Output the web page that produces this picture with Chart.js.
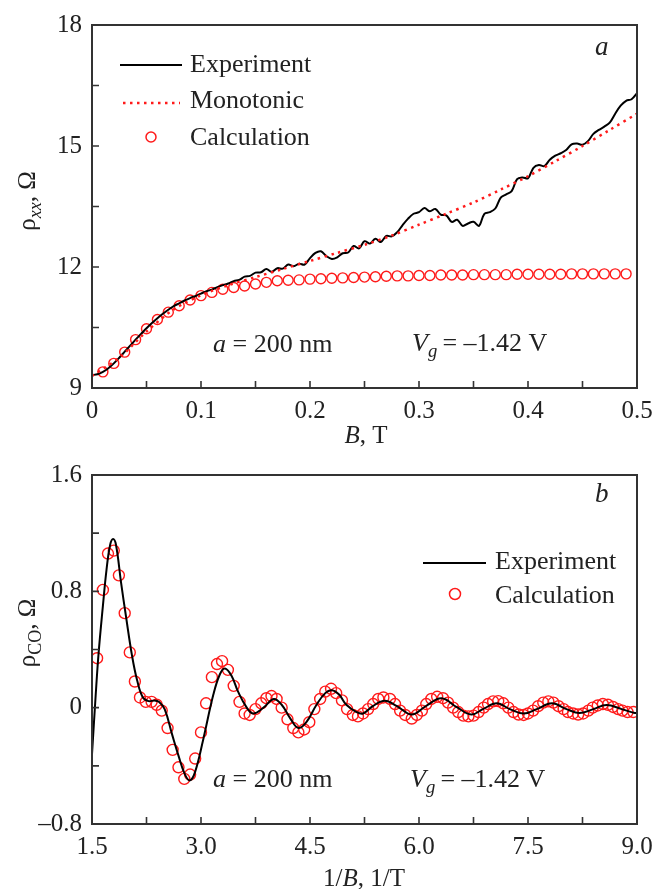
<!DOCTYPE html>
<html>
<head>
<meta charset="utf-8">
<script src="https://cdn.jsdelivr.net/npm/chart.js@4.4.0/dist/chart.umd.min.js"></script>
<style>
  body { margin: 0; background: #fff; }
  canvas { display: block; }
</style>
</head>
<body>
<canvas id="chartA" width="669" height="450"></canvas>
<canvas id="chartB" width="669" height="439"></canvas>
<script>
// --- DATA: panel a, rho_xx vs B ---
const expB = [0, 0.005, 0.01, 0.015, 0.02, 0.025, 0.03, 0.035, 0.04, 0.045, 0.05, 0.055, 0.06, 0.065, 0.07, 0.075, 0.08, 0.085, 0.09, 0.095,
  0.1, 0.105, 0.11, 0.115, 0.12, 0.125, 0.13, 0.135, 0.14, 0.145, 0.15, 0.155, 0.16, 0.165, 0.17, 0.175, 0.18, 0.185, 0.19, 0.195,
  0.2, 0.205, 0.21, 0.215, 0.22, 0.225, 0.23, 0.235, 0.24, 0.245, 0.25, 0.255, 0.26, 0.265, 0.27, 0.275, 0.28, 0.285, 0.29, 0.295,
  0.3, 0.305, 0.31, 0.315, 0.32, 0.325, 0.33, 0.335, 0.34, 0.345, 0.35, 0.355, 0.36, 0.365, 0.37, 0.375, 0.38, 0.385, 0.39, 0.395,
  0.4, 0.405, 0.41, 0.415, 0.42, 0.425, 0.43, 0.435, 0.44, 0.445, 0.45, 0.455, 0.46, 0.465, 0.47, 0.475, 0.48, 0.485, 0.49, 0.495, 0.5];
const expRho = [9.32, 9.34, 9.40, 9.49, 9.61, 9.75, 9.90, 10.05, 10.20, 10.34, 10.48, 10.61, 10.73, 10.84, 10.94, 11.03, 11.10, 11.17, 11.23, 11.28,
  11.34, 11.40, 11.44, 11.50, 11.55, 11.59, 11.65, 11.68, 11.76, 11.78, 11.86, 11.87, 11.95, 11.88, 11.97, 11.96, 12.06, 12.02, 12.08, 12.06,
  12.22, 12.35, 12.39, 12.27, 12.20, 12.24, 12.34, 12.36, 12.52, 12.46, 12.64, 12.58, 12.70, 12.62, 12.77, 12.76, 12.86, 13.04, 13.20, 13.32,
  13.36, 13.46, 13.38, 13.44, 13.30, 13.28, 13.12, 13.17, 13.02, 13.08, 13.12, 13.02, 13.32, 13.36, 13.45, 13.72, 13.80, 13.88, 14.18, 14.22,
  14.20, 14.46, 14.53, 14.50, 14.66, 14.76, 14.82, 14.90, 15.04, 15.06, 15.03, 15.12, 15.30, 15.40, 15.48, 15.58, 15.80, 16.00, 16.12, 16.16, 16.31];

const monoB = [0, 0.025, 0.05, 0.075, 0.1, 0.125, 0.15, 0.175, 0.2, 0.225, 0.25, 0.275, 0.3, 0.325, 0.35, 0.375, 0.4, 0.425, 0.45, 0.475, 0.5];
const monoRho = [9.30, 9.75, 10.40, 10.95, 11.30, 11.55, 11.75, 11.95, 12.15, 12.35, 12.55, 12.78, 13.05, 13.32, 13.60, 13.92, 14.25, 14.62, 15.00, 15.40, 15.80];

const calcB = [0.01, 0.02, 0.03, 0.04, 0.05, 0.06, 0.07, 0.08, 0.09, 0.1, 0.11, 0.12, 0.13, 0.14, 0.15, 0.16, 0.17, 0.18, 0.19, 0.2,
  0.21, 0.22, 0.23, 0.24, 0.25, 0.26, 0.27, 0.28, 0.29, 0.3, 0.31, 0.32, 0.33, 0.34, 0.35, 0.36, 0.37, 0.38, 0.39, 0.4,
  0.41, 0.42, 0.43, 0.44, 0.45, 0.46, 0.47, 0.48, 0.49];
const calcRho = [9.40, 9.61, 9.89, 10.20, 10.47, 10.70, 10.88, 11.04, 11.18, 11.29, 11.37, 11.45, 11.49, 11.53, 11.58, 11.62, 11.66, 11.67, 11.68, 11.70,
  11.71, 11.72, 11.73, 11.74, 11.75, 11.76, 11.77, 11.78, 11.78, 11.79, 11.79, 11.80, 11.80, 11.80, 11.81, 11.81, 11.81, 11.81, 11.82, 11.82,
  11.82, 11.82, 11.82, 11.83, 11.83, 11.83, 11.83, 11.83, 11.83];

const aXTicks = [0, 0.1, 0.2, 0.3, 0.4, 0.5];
const aXLabels = ['0', '0.1', '0.2', '0.3', '0.4', '0.5'];
const aYTicks = [9, 12, 15, 18];
const aYLabels = ['9', '12', '15', '18'];

// --- DATA: panel b, rho_CO vs 1/B ---
const expInvB = [1.5, 1.55, 1.59, 1.65, 1.7, 1.75, 1.79, 1.83, 1.9, 1.97, 2.05, 2.12, 2.2, 2.28, 2.36, 2.42, 2.5, 2.6, 2.69, 2.78,
  2.85, 2.92, 3.03, 3.17, 3.26, 3.33, 3.42, 3.51, 3.63, 3.72, 3.86, 4.0, 4.11, 4.23, 4.34, 4.45, 4.59, 4.71, 4.8, 4.9,
  5.0, 5.14, 5.23, 5.37, 5.53, 5.69, 5.9, 6.1, 6.31, 6.52, 6.72, 6.88, 7.07, 7.25, 7.44, 7.62, 7.83, 8.03, 8.21, 8.4,
  8.58, 8.79, 8.97, 9.0];
const expCO = [-0.32, 0.08, 0.37, 0.70, 0.95, 1.12, 1.16, 1.12, 0.86, 0.62, 0.36, 0.19, 0.07, 0.045, 0.05, 0.04, -0.01, -0.18, -0.33, -0.46,
  -0.50, -0.44, -0.22, 0.09, 0.23, 0.27, 0.22, 0.11, 0.00, -0.04, 0.00, 0.06, 0.02, -0.075, -0.14, -0.10, 0.02, 0.10, 0.12, 0.09,
  0.02, -0.03, -0.04, 0.013, 0.047, 0.013, -0.047, 0.013, 0.065, 0.003, -0.047, -0.01, 0.03, -0.01, -0.04, -0.01, 0.03, -0.01, -0.037, -0.01,
  0.018, -0.01, -0.037, -0.035];

const calcInvB = [1.57, 1.65, 1.72, 1.80, 1.87, 1.95, 2.02, 2.09, 2.16, 2.24, 2.32, 2.39, 2.46, 2.54, 2.61, 2.69, 2.77, 2.85, 2.92, 3.00,
  3.07, 3.15, 3.22, 3.29, 3.37, 3.45, 3.53, 3.60, 3.67, 3.75, 3.83, 3.90, 3.97, 4.04, 4.11, 4.19, 4.27, 4.34, 4.42, 4.49,
  4.56, 4.64, 4.71, 4.79, 4.86, 4.94, 5.01, 5.09, 5.16, 5.23, 5.30, 5.37, 5.44, 5.51, 5.60, 5.67, 5.74, 5.81, 5.90, 5.97,
  6.04, 6.10, 6.17, 6.25, 6.33, 6.40, 6.47, 6.54, 6.61, 6.68, 6.75, 6.82, 6.89, 6.95, 7.02, 7.09, 7.16, 7.23, 7.30, 7.37,
  7.44, 7.50, 7.57, 7.64, 7.71, 7.78, 7.85, 7.92, 7.99, 8.05, 8.12, 8.19, 8.26, 8.33, 8.39, 8.46, 8.53, 8.60, 8.67, 8.74,
  8.80, 8.87, 8.95];
const calcCO = [0.34, 0.81, 1.06, 1.08, 0.91, 0.65, 0.38, 0.18, 0.07, 0.04, 0.04, 0.02, -0.02, -0.14, -0.29, -0.41, -0.49, -0.46, -0.35, -0.17,
  0.03, 0.21, 0.30, 0.32, 0.26, 0.15, 0.04, -0.04, -0.05, -0.01, 0.03, 0.065, 0.08, 0.06, 0.00, -0.08, -0.14, -0.17, -0.15, -0.10,
  -0.01, 0.06, 0.11, 0.13, 0.10, 0.05, -0.01, -0.05, -0.06, -0.04, -0.01, 0.025, 0.06, 0.07, 0.06, 0.025, -0.02, -0.05, -0.075, -0.05,
  -0.02, 0.025, 0.06, 0.075, 0.065, 0.035, 0.0, -0.03, -0.055, -0.06, -0.055, -0.03, 0.0, 0.025, 0.043, 0.045, 0.03, 0.0, -0.03, -0.047,
  -0.05, -0.04, -0.02, 0.01, 0.035, 0.043, 0.035, 0.01, -0.01, -0.03, -0.04, -0.047, -0.04, -0.02, 0.0, 0.015, 0.025, 0.02, 0.005, -0.01,
  -0.02, -0.03, -0.03];

const bXTicks = [1.5, 3, 4.5, 6, 7.5, 9];
const bXLabels = ['1.5', '3.0', '4.5', '6.0', '7.5', '9.0'];
const bYTicks = [-0.8, 0, 0.8, 1.6];
const bYLabels = ['\u20130.8', '0', '0.8', '1.6'];

// --- STYLE ---
const FONT = '"Liberation Serif", "Times New Roman", serif';
const INK = '#222';
const RED = '#ff1a1a';

function pts(xs, ys) { return xs.map((x, i) => ({ x: x, y: ys[i] })); }

function labelFor(vals, labels) {
  return v => {
    const i = vals.findIndex(t => Math.abs(t - v) < 1e-6);
    return i >= 0 ? labels[i] : '';
  };
}

// --- RICH TEXT (italic / subscript pieces) ---
function segFont(s, size) {
  return (s.it ? 'italic ' : '') + (s.sub ? size * 0.72 : size) + 'px ' + FONT;
}
function richWidth(ctx, segs, size) {
  let w = 0;
  segs.forEach(s => { ctx.font = segFont(s, size); w += ctx.measureText(s.t).width; });
  return w;
}
function drawRich(ctx, segs, x, y, size, align) {
  let cx = align === 'center' ? x - richWidth(ctx, segs, size) / 2 : x;
  ctx.textAlign = 'left';
  ctx.textBaseline = 'alphabetic';
  ctx.fillStyle = INK;
  segs.forEach(s => {
    ctx.font = segFont(s, size);
    ctx.fillText(s.t, cx, y + (s.sub ? size * 0.24 : 0));
    cx += ctx.measureText(s.t).width;
  });
}

// --- FRAME, INWARD TICKS, LEGEND, LABELS ---
function makeOverlay(cfg) {
  return {
    id: 'overlay',
    afterDraw(chart) {
      const { ctx, chartArea: a, scales } = chart;
      ctx.save();
      ctx.strokeStyle = '#333';
      ctx.lineWidth = 2;
      ctx.strokeRect(a.left, a.top, a.right - a.left, a.bottom - a.top);
      ctx.lineWidth = 1.6;
      ctx.beginPath();
      scales.x.ticks.forEach(t => {
        const px = scales.x.getPixelForValue(t.value);
        ctx.moveTo(px, a.bottom); ctx.lineTo(px, a.bottom - 7);
      });
      scales.y.ticks.forEach(t => {
        const py = scales.y.getPixelForValue(t.value);
        ctx.moveTo(a.left, py); ctx.lineTo(a.left + 7, py);
      });
      ctx.stroke();

      // legend
      cfg.legend.forEach(item => {
        ctx.save();
        if (item.kind === 'line') {
          ctx.strokeStyle = '#000'; ctx.lineWidth = 2;
          ctx.beginPath(); ctx.moveTo(item.x1, item.y); ctx.lineTo(item.x2, item.y); ctx.stroke();
        } else if (item.kind === 'dots') {
          ctx.strokeStyle = RED; ctx.lineWidth = 2.5; ctx.setLineDash([2.5, 4.5]);
          ctx.beginPath(); ctx.moveTo(item.x1, item.y); ctx.lineTo(item.x2, item.y); ctx.stroke();
        } else {
          ctx.strokeStyle = RED; ctx.lineWidth = 1.5;
          ctx.beginPath(); ctx.arc(item.x1, item.y, item.r, 0, Math.PI * 2); ctx.stroke();
        }
        ctx.restore();
        drawRich(ctx, [{ t: item.text }], item.tx, item.ty, 26);
      });

      // annotations and axis titles
      cfg.texts.forEach(tx => {
        if (tx.rotate) {
          ctx.save();
          ctx.translate(tx.x, tx.y);
          ctx.rotate(-Math.PI / 2);
          drawRich(ctx, tx.segs, 0, 0, tx.size, 'center');
          ctx.restore();
        } else {
          drawRich(ctx, tx.segs, tx.x, tx.y, tx.size, tx.align);
        }
      });
      ctx.restore();
    }
  };
}

function axis(min, max, step, vals, labels, fitKey, fitVal, pad) {
  return {
    type: 'linear', min: min, max: max,
    grid: { display: false, drawTicks: false },
    border: { display: false },
    ticks: {
      stepSize: step, autoSkip: false, maxRotation: 0, padding: pad,
      color: INK, font: { family: FONT, size: 25 },
      callback: labelFor(vals, labels)
    },
    afterFit: s => { s[fitKey] = fitVal; }
  };
}

Chart.defaults.font.family = FONT;

// --- PANEL a ---
new Chart(document.getElementById('chartA'), {
  type: 'scatter',
  data: {
    datasets: [
      { label: 'Monotonic', data: pts(monoB, monoRho), showLine: true, pointRadius: 0,
        borderColor: RED, borderWidth: 2.5, borderDash: [2.5, 4.5], tension: 0.3, order: 0 },
      { label: 'Experiment', data: pts(expB, expRho), showLine: true, pointRadius: 0,
        borderColor: '#000', borderWidth: 2, tension: 0.35, order: 1 },
      { label: 'Calculation', data: pts(calcB, calcRho), showLine: false, pointRadius: 5,
        pointStyle: 'circle', borderColor: RED, backgroundColor: 'rgba(0,0,0,0)', borderWidth: 1.4, order: 2 }
    ]
  },
  options: {
    responsive: false, animation: false, events: [],
    layout: { padding: { top: 22, right: 32, left: 0, bottom: 0 } },
    plugins: { legend: { display: false }, tooltip: { enabled: false } },
    scales: {
      x: axis(0, 0.5, 0.05, aXTicks, aXLabels, 'height', 62, 8),
      y: axis(9, 18, 1.5, aYTicks, aYLabels, 'width', 92, 10)
    }
  },
  plugins: [makeOverlay({
    legend: [
      { kind: 'line', x1: 120, x2: 182, y: 65, text: 'Experiment', tx: 190, ty: 72 },
      { kind: 'dots', x1: 123, x2: 180, y: 103, text: 'Monotonic', tx: 190, ty: 108 },
      { kind: 'circle', x1: 151, y: 137, r: 5, text: 'Calculation', tx: 190, ty: 145 }
    ],
    texts: [
      { segs: [{ t: 'a', it: true }], x: 595, y: 55, size: 27 },
      { segs: [{ t: 'a', it: true }, { t: ' = 200 nm' }], x: 213, y: 352, size: 26 },
      { segs: [{ t: 'V', it: true }, { t: 'g', it: true, sub: true }, { t: '\u2009= \u20131.42 V' }], x: 412, y: 351, size: 26 },
      { segs: [{ t: 'B', it: true }, { t: ', T' }], x: 366, y: 443, size: 25, align: 'center' },
      { segs: [{ t: '\u03c1' }, { t: 'xx', it: true, sub: true }, { t: ', \u03a9' }], x: 35, y: 201, size: 25, rotate: true }
    ]
  })]
});

// --- PANEL b ---
new Chart(document.getElementById('chartB'), {
  type: 'scatter',
  data: {
    datasets: [
      { label: 'Experiment', data: pts(expInvB, expCO), showLine: true, pointRadius: 0,
        borderColor: '#000', borderWidth: 2, tension: 0.4, order: 0 },
      { label: 'Calculation', data: pts(calcInvB, calcCO), showLine: false, pointRadius: 5.5,
        pointStyle: 'circle', borderColor: RED, backgroundColor: 'rgba(0,0,0,0)', borderWidth: 1.4, order: 1 }
    ]
  },
  options: {
    responsive: false, animation: false, events: [],
    layout: { padding: { top: 13, right: 32, left: 0, bottom: 0 } },
    plugins: { legend: { display: false }, tooltip: { enabled: false } },
    scales: {
      x: axis(1.5, 9, 0.75, bXTicks, bXLabels, 'height', 65, 8),
      y: axis(-0.8, 1.6, 0.4, bYTicks, bYLabels, 'width', 92, 10)
    }
  },
  plugins: [makeOverlay({
    legend: [
      { kind: 'line', x1: 423, x2: 486, y: 113, text: 'Experiment', tx: 495, ty: 119 },
      { kind: 'circle', x1: 455, y: 144, r: 5.5, text: 'Calculation', tx: 495, ty: 153 }
    ],
    texts: [
      { segs: [{ t: 'b', it: true }], x: 595, y: 52, size: 27 },
      { segs: [{ t: 'a', it: true }, { t: ' = 200 nm' }], x: 213, y: 337, size: 26 },
      { segs: [{ t: 'V', it: true }, { t: 'g', it: true, sub: true }, { t: '\u2009= \u20131.42 V' }], x: 410, y: 337, size: 26 },
      { segs: [{ t: '1/' }, { t: 'B', it: true }, { t: ', 1/T' }], x: 364, y: 436, size: 25, align: 'center' },
      { segs: [{ t: '\u03c1' }, { t: 'CO', sub: true }, { t: ', \u03a9' }], x: 35, y: 183, size: 25, rotate: true }
    ]
  })]
});
</script>
</body>
</html>
